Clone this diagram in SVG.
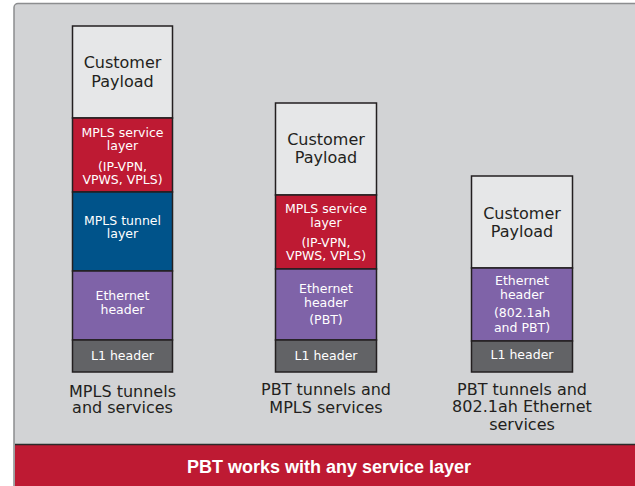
<svg xmlns="http://www.w3.org/2000/svg" width="635" height="486" viewBox="0 0 635 486">
<style>
.frame{fill:#d2d3d5;stroke:#8c8d8f;stroke-width:1.5}
.lay{stroke:#231f20;stroke-width:1.5}
.pay{fill:#e6e7e8}
.svc{fill:#be1a33}
.tun{fill:#00538a}
.eth{fill:#7f63a8}
.l1{fill:#626366}
text{font-family:"DejaVu Sans","Liberation Sans",sans-serif;text-anchor:middle}
.big{font-size:16px;fill:#231f20}
.sm{font-size:12.5px;fill:#ffffff}
.bar{font-family:"Liberation Sans",Arial,sans-serif;font-weight:bold;font-size:18px;fill:#ffffff}
</style>
<rect class="frame" x="14" y="3.5" width="630" height="490" rx="4"/>
<rect x="15" y="445" width="625" height="45" fill="#be1a33"/>
<line x1="15" y1="444.5" x2="640" y2="444.5" stroke="#2b2b2b" stroke-width="1.5"/>
<text class="bar" x="329" y="473">PBT works with any service layer</text>

<g id="stack1">
<rect class="lay pay" x="72.5" y="26" width="100" height="92"/>
<rect class="lay svc" x="72.5" y="118" width="100" height="74"/>
<rect class="lay tun" x="72.5" y="192" width="100" height="79"/>
<rect class="lay eth" x="72.5" y="271" width="100" height="69"/>
<rect class="lay l1" x="72.5" y="340" width="100" height="32"/>
<text class="big" x="122.5" y="68">Customer<tspan x="122.5" dy="19">Payload</tspan></text>
<text class="sm" x="122.5" y="137">MPLS service<tspan x="122.5" dy="13">layer</tspan><tspan x="122.5" dy="21">(IP-VPN,</tspan><tspan x="122.5" dy="13">VPWS, VPLS)</tspan></text>
<text class="sm" x="122.5" y="225">MPLS tunnel<tspan x="122.5" dy="13">layer</tspan></text>
<text class="sm" x="122.5" y="300">Ethernet<tspan x="122.5" dy="14">header</tspan></text>
<text class="sm" x="122.5" y="360">L1 header</text>
<text class="big" x="122.5" y="397">MPLS tunnels<tspan x="122.5" dy="16">and services</tspan></text>
</g>

<g id="stack2">
<rect class="lay pay" x="275.5" y="103" width="101" height="92"/>
<rect class="lay svc" x="275.5" y="195" width="101" height="74"/>
<rect class="lay eth" x="275.5" y="269" width="101" height="71"/>
<rect class="lay l1" x="275.5" y="340" width="101" height="32"/>
<text class="big" x="326" y="145">Customer<tspan x="326" dy="18">Payload</tspan></text>
<text class="sm" x="326" y="213">MPLS service<tspan x="326" dy="14">layer</tspan><tspan x="326" dy="20">(IP-VPN,</tspan><tspan x="326" dy="13">VPWS, VPLS)</tspan></text>
<text class="sm" x="326" y="293">Ethernet<tspan x="326" dy="14">header</tspan><tspan x="326" dy="17">(PBT)</tspan></text>
<text class="sm" x="326" y="360">L1 header</text>
<text class="big" x="326" y="395">PBT tunnels and<tspan x="326" dy="18">MPLS services</tspan></text>
</g>

<g id="stack3">
<rect class="lay pay" x="471.5" y="176" width="101" height="92"/>
<rect class="lay eth" x="471.5" y="268" width="101" height="73"/>
<rect class="lay l1" x="471.5" y="341" width="101" height="31"/>
<text class="big" x="522" y="219">Customer<tspan x="522" dy="18">Payload</tspan></text>
<text class="sm" x="522" y="285">Ethernet<tspan x="522" dy="14">header</tspan><tspan x="522" dy="18">(802.1ah</tspan><tspan x="522" dy="15">and PBT)</tspan></text>
<text class="sm" x="522" y="359">L1 header</text>
<text class="big" x="522" y="395">PBT tunnels and<tspan x="522" dy="17">802.1ah Ethernet</tspan><tspan x="522" dy="18">services</tspan></text>
</g>
</svg>
